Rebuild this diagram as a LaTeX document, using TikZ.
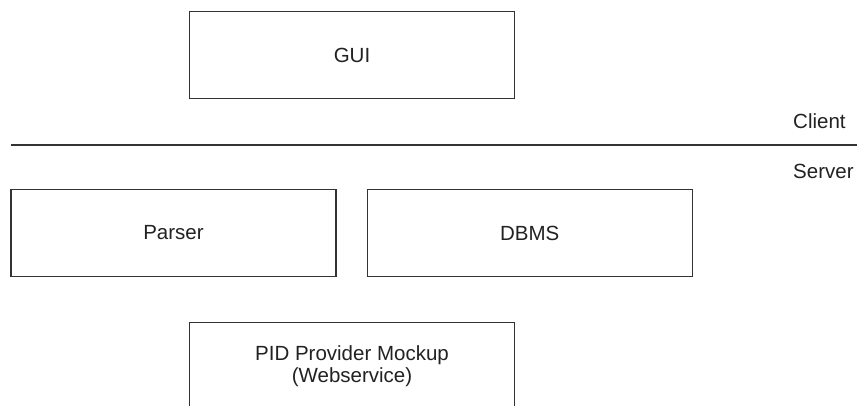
\documentclass[tikz,border=0pt]{standalone}
\usepackage{fontspec}
\setmainfont{Liberation Sans}
\definecolor{edge}{HTML}{333333}
\definecolor{ink}{HTML}{222222}
\tikzset{
  box/.style={draw=edge, line width=1.3pt, fill=white, minimum width=325pt,
    minimum height=87pt, inner sep=0pt, align=center, text=ink,
    font=\fontsize{20.5}{22}\selectfont},
  tier/.style={text=ink, anchor=west, inner sep=0pt,
    font=\fontsize{20.5}{22}\selectfont}
}
\begin{document}
\begin{tikzpicture}[x=1pt, y=-1pt]
  \useasboundingbox (0,0) rectangle (857,405);
  \clip (0,0) rectangle (857,405);
  % client tier
  \node[box] (gui) at (352,55) {GUI};
  % tier separator
  \coordinate (sepL) at (11,145);
  \coordinate (sepR) at (857,145);
  \draw[edge, line width=1.3pt] (sepL) -- (sepR);
  \node[tier] (client) at (793,121.5) {Client};
  \node[tier] (server) at (793,171.5) {Server};
  % server tier
  \node[box] (parser) at (173.5,233) {Parser};
  \node[box] (dbms) at (529.75,233) {DBMS};
  \node[box] (pid) at (352,366) {PID Provider Mockup\\(Webservice)};
\end{tikzpicture}
\end{document}
